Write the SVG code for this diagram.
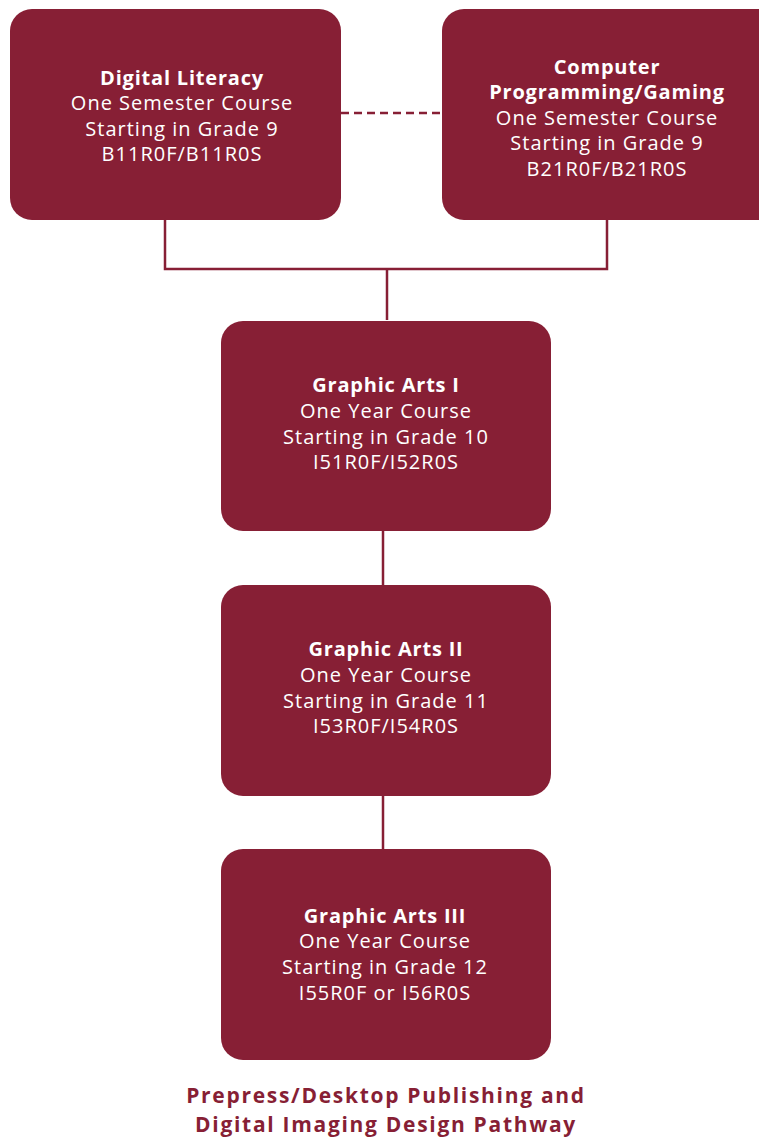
<svg xmlns="http://www.w3.org/2000/svg" width="759" height="1138" viewBox="0 0 759 1138">
<style>
.box{fill:#871F35}
.t{font-family:"Open Sans","Liberation Sans",sans-serif;font-size:20px;fill:#ffffff;text-anchor:middle;letter-spacing:1px}
.b{font-weight:bold;letter-spacing:0.8px}
.ln{stroke:#871F35;stroke-width:2.5;fill:none}
.title{font-family:"Open Sans","Liberation Sans",sans-serif;font-size:21px;font-weight:bold;fill:#871F35;text-anchor:middle;letter-spacing:1.7px}
</style>
<rect width="759" height="1138" fill="#ffffff"/>
<g id="connectors">
<line class="ln" x1="341" y1="113" x2="442" y2="113" stroke-dasharray="8,5"/>
<polyline class="ln" points="165,220 165,269 607,269 607,220"/>
<line class="ln" x1="387" y1="269" x2="387" y2="320"/>
<line class="ln" x1="383" y1="531" x2="383" y2="585"/>
<line class="ln" x1="383" y1="796" x2="383" y2="849"/>
</g>
<g id="digital-literacy">
<rect class="box" x="10" y="9" width="331" height="211" rx="22"/>
<text class="t b" x="182" y="85">Digital Literacy</text>
<text class="t" x="182" y="110">One Semester Course</text>
<text class="t" x="182" y="136">Starting in Grade 9</text>
<text class="t" x="182" y="161">B11R0F/B11R0S</text>
</g>
<g id="computer-programming">
<rect class="box" x="442" y="9" width="340" height="211" rx="22"/>
<text class="t b" x="607" y="74">Computer</text>
<text class="t b" x="607" y="99">Programming/Gaming</text>
<text class="t" x="607" y="125">One Semester Course</text>
<text class="t" x="607" y="150">Starting in Grade 9</text>
<text class="t" x="607" y="176">B21R0F/B21R0S</text>
</g>
<g id="graphic-arts-1">
<rect class="box" x="221" y="321" width="330" height="210" rx="22"/>
<text class="t b" x="386" y="392">Graphic Arts I</text>
<text class="t" x="386" y="418">One Year Course</text>
<text class="t" x="386" y="444">Starting in Grade 10</text>
<text class="t" x="386" y="469">I51R0F/I52R0S</text>
</g>
<g id="graphic-arts-2">
<rect class="box" x="221" y="585" width="330" height="211" rx="22"/>
<text class="t b" x="386" y="656">Graphic Arts II</text>
<text class="t" x="386" y="682">One Year Course</text>
<text class="t" x="386" y="708">Starting in Grade 11</text>
<text class="t" x="386" y="733">I53R0F/I54R0S</text>
</g>
<g id="graphic-arts-3">
<rect class="box" x="221" y="849" width="330" height="211" rx="22"/>
<text class="t b" x="385" y="923">Graphic Arts III</text>
<text class="t" x="385" y="948">One Year Course</text>
<text class="t" x="385" y="974">Starting in Grade 12</text>
<text class="t" x="385" y="1000">I55R0F or I56R0S</text>
</g>
<g id="footer">
<text class="title" x="386" y="1103">Prepress/Desktop Publishing and</text>
<text class="title" x="386" y="1132">Digital Imaging Design Pathway</text>
</g>
</svg>
